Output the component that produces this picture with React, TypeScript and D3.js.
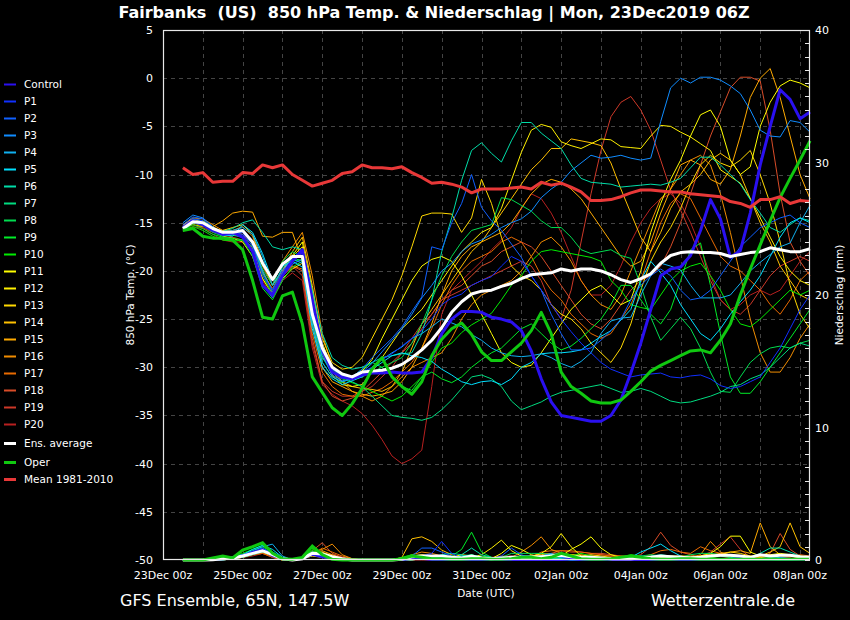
import React from 'react';
import * as d3 from 'd3';

// 6-hourly steps, first value valid 23Dec2019 12Z, last 08Jan2020 06Z
const firstStep = Date.UTC(2019, 11, 23, 12);
const stepHours = 6;

const control = [-15.5,-14.8,-15.2,-15.8,-16.2,-16.0,-16.5,-18.0,-21.5,-22.5,-20.5,-19.0,-17.8,-23.0,-28.0,-30.5,-31.0,-31.2,
  -30.8,-30.6,-30.6,-30.5,-30.6,-30.6,-30.5,-29.0,-26.5,-25.0,-24.2,-24.2,
  -24.3,-24.8,-25.0,-25.3,-26.2,-28.3,-31.2,-33.6,-35.0,-35.2,-35.4,-35.6,-35.6,-35.0,-33.4,-30.6,
  -27.5,-24.0,-20.5,-19.8,-19.6,-18.4,-15.8,-12.6,-14.6,-18.6,-17.9,-14.0,-9.0,-5.0,-1.2,-2.2,-4.2,-3.5];

const p1 = [-15.4,-14.6,-14.8,-15.8,-16.3,-16.2,-16.0,-17.5,-20.5,-22.0,-20.0,-19.0,-18.2,-24.0,-28.5,-30.5,-31.2,-31.0,
  -30.5,-30.0,-29.2,-28.6,-27.8,-27.0,-26.2,-25.0,-23.5,-22.8,-22.4,-21.5,
  -21.0,-20.6,-19.5,-18.5,-19.0,-20.5,-22.0,-23.5,-25.0,-26.3,-27.5,-28.5,-29.5,-30.2,-30.6,-31.0,
  -30.8,-30.7,-30.6,-31.0,-31.1,-30.9,-30.8,-31.2,-31.9,-32.2,-32.0,-31.5,-31.0,-29.5,-28.0,-26.0,-24.0,-22.5];
const p2 = [-15.2,-14.4,-14.6,-15.5,-16.0,-16.1,-16.2,-18.0,-21.5,-22.8,-20.2,-18.6,-18.0,-23.8,-28.2,-30.2,-30.8,-31.0,
  -30.2,-29.0,-28.0,-27.0,-25.8,-24.2,-22.7,-17.5,-17.8,-15.0,-13.0,-10.0,
  -13.4,-14.8,-15.8,-17.2,-18.6,-20.5,-22.0,-24.5,-26.5,-28.2,-28.2,-28.0,-27.2,-26.2,-25.0,-23.0,
  -21.5,-20.5,-19.8,-20.5,-22.0,-23.0,-22.8,-22.0,-20.5,-19.0,-17.5,-16.5,-15.5,-15.0,-14.5,-14.2,-15.0,-15.5];
const p3 = [-15.0,-14.2,-14.5,-15.4,-16.2,-16.0,-15.9,-17.2,-20.0,-22.2,-20.5,-19.3,-18.8,-24.8,-28.8,-30.8,-31.4,-31.2,
  -30.5,-29.6,-28.4,-27.2,-26.0,-24.5,-22.8,-21.5,-20.0,-19.2,-18.0,-17.2,
  -16.8,-16.2,-15.5,-15.0,-14.6,-13.8,-12.4,-11.5,-10.8,-9.6,-8.8,-8.0,-8.3,-8.2,-8.0,-8.3,
  -8.5,-8.3,-4.5,-1.0,0.0,-0.5,0.1,0.1,-0.2,-0.8,-1.6,-3.3,-5.4,-6.0,-6.1,-4.4,-4.6,-5.6];
const p4 = [-15.6,-14.8,-15.2,-15.8,-16.0,-15.8,-15.5,-16.2,-18.5,-21.5,-19.8,-18.8,-19.2,-25.5,-29.5,-31.0,-31.5,-31.2,
  -30.8,-30.0,-29.2,-28.5,-27.9,-27.0,-26.5,-25.8,-25.0,-25.4,-25.8,-26.6,
  -27.2,-28.0,-28.5,-28.8,-28.9,-28.8,-28.6,-29.0,-29.6,-30.0,-29.4,-28.5,-26.5,-25.2,-24.9,-24.8,
  -22.5,-20.5,-19.2,-19.5,-19.9,-21.5,-22.8,-22.8,-22.8,-22.5,-21.3,-20.0,-19.1,-18.3,-17.5,-17.1,-15.0,-13.2];
const p5 = [-15.8,-15.0,-15.0,-15.5,-16.2,-16.4,-15.2,-16.0,-18.2,-21.0,-19.5,-19.0,-19.6,-26.0,-30.0,-31.2,-31.8,-31.4,
  -31.0,-30.2,-29.5,-28.8,-28.5,-28.8,-29.0,-29.4,-30.2,-30.8,-31.5,-31.8,
  -31.5,-31.4,-31.8,-31.2,-30.0,-29.5,-28.6,-28.5,-28.5,-28.4,-28.2,-27.5,-26.8,-26.2,-25.1,-24.0,
  -21.0,-19.0,-20.2,-21.5,-23.5,-25.0,-26.5,-27.2,-26.0,-24.5,-23.2,-22.0,-20.5,-18.5,-16.5,-15.0,-14.5,-15.0];
const p6 = [-15.6,-14.9,-15.1,-15.7,-15.9,-15.6,-15.0,-14.7,-16.0,-17.5,-17.8,-17.5,-17.8,-22.0,-26.5,-29.0,-29.8,-30.2,
  -30.0,-29.5,-29.0,-28.8,-28.6,-28.5,-26.5,-23.0,-18.0,-14.5,-10.6,-7.5,
  -6.7,-7.8,-8.7,-6.5,-4.6,-4.6,-5.7,-6.5,-7.3,-9.0,-10.4,-10.8,-10.9,-11.0,-11.3,-11.2,
  -11.1,-11.0,-11.1,-10.8,-10.4,-9.3,-8.2,-8.2,-9.0,-10.0,-11.0,-12.6,-14.0,-15.5,-16.0,-15.2,-14.5,-14.8];
const p7 = [-15.5,-14.6,-14.8,-15.6,-16.3,-16.3,-16.5,-17.3,-20.2,-22.0,-19.6,-18.6,-19.0,-25.0,-29.0,-30.2,-31.0,-31.5,
  -32.0,-33.0,-34.0,-35.0,-35.2,-35.3,-35.5,-35.2,-34.4,-33.4,-32.2,-31.0,
  -30.8,-31.2,-32.0,-33.5,-34.4,-34.0,-33.6,-33.0,-32.6,-32.4,-32.2,-32.0,-31.8,-32.2,-32.6,-32.5,
  -32.2,-32.5,-33.0,-33.5,-33.7,-33.6,-33.3,-33.0,-32.6,-32.0,-31.8,-31.2,-30.8,-30.0,-29.0,-28.0,-27.5,-27.8];
const p8 = [-15.7,-15.0,-15.3,-16.0,-16.4,-16.2,-16.0,-17.2,-19.8,-21.5,-19.0,-18.0,-18.6,-24.0,-28.0,-30.2,-30.8,-31.2,
  -31.0,-30.5,-30.0,-29.5,-29.0,-27.5,-25.5,-23.0,-20.5,-18.5,-17.0,-15.8,
  -15.5,-15.2,-12.4,-12.6,-13.2,-13.8,-14.8,-15.5,-15.5,-16.5,-17.8,-18.2,-18.0,-17.8,-18.4,-18.7,
  -21.5,-24.8,-27.2,-26.0,-24.8,-26.0,-28.0,-30.5,-32.5,-32.6,-31.0,-29.5,-28.6,-28.0,-27.8,-28.0,-27.5,-27.2];
const p9 = [-15.8,-15.2,-15.6,-16.2,-16.5,-16.6,-16.8,-18.5,-21.8,-23.0,-21.0,-19.6,-19.0,-25.0,-29.5,-31.0,-31.6,-31.0,
  -30.2,-29.5,-30.0,-31.0,-32.0,-32.4,-31.0,-30.5,-31.2,-31.6,-31.0,-30.0,
  -29.2,-28.5,-28.0,-27.0,-26.0,-25.5,-26.5,-27.5,-28.2,-27.8,-27.0,-26.0,-25.0,-23.5,-21.5,-21.5,
  -23.0,-24.5,-25.5,-24.0,-21.0,-17.8,-17.1,-21.5,-26.5,-31.0,-32.7,-32.7,-31.5,-30.0,-28.5,-27.0,-25.5,-24.0];
const p10 = [-15.9,-15.4,-15.8,-16.4,-16.8,-16.9,-16.8,-17.5,-20.5,-22.5,-20.4,-19.0,-18.8,-24.5,-29.0,-30.5,-31.2,-31.6,
  -32.0,-32.5,-33.0,-33.5,-33.0,-32.0,-31.0,-29.5,-28.0,-27.5,-26.4,-25.6,
  -25.0,-24.4,-23.0,-21.5,-20.5,-19.0,-18.0,-17.8,-18.0,-18.2,-18.4,-18.6,-19.0,-21.0,-22.0,-23.5,
  -23.8,-24.0,-22.5,-21.0,-20.0,-19.5,-19.2,-20.5,-22.0,-24.0,-25.5,-25.8,-25.0,-24.0,-23.0,-22.0,-22.5,-22.0];
const p11 = [-15.3,-14.7,-14.8,-15.4,-16.0,-16.2,-16.5,-17.6,-20.8,-22.4,-20.2,-18.4,-17.0,-22.0,-27.5,-30.0,-30.8,-31.0,
  -30.4,-29.2,-27.0,-25.0,-23.0,-21.0,-19.5,-18.8,-18.5,-19.0,-20.5,-22.5,
  -24.5,-26.5,-28.5,-29.5,-30.0,-29.8,-28.5,-27.0,-25.5,-24.0,-23.0,-22.0,-21.5,-22.5,-23.5,-23.0,
  -20.0,-16.0,-13.0,-10.5,-8.5,-6.0,-3.8,-3.3,-5.0,-8.5,-10.0,-9.2,-5.0,-2.5,-0.8,-0.2,-0.5,-1.0];
const p12 = [-15.5,-15.0,-15.2,-15.8,-16.4,-16.6,-17.0,-18.5,-21.5,-22.6,-20.8,-19.8,-19.2,-24.0,-28.5,-30.8,-31.8,-32.0,
  -31.8,-30.5,-29.0,-27.5,-26.0,-25.0,-24.0,-22.5,-21.0,-19.5,-18.0,-17.0,
  -16.0,-15.5,-13.5,-10.6,-7.7,-5.4,-4.8,-5.1,-6.6,-7.0,-7.3,-6.8,-6.3,-6.4,-7.1,-7.2,
  -7.3,-6.0,-4.9,-5.0,-5.6,-6.1,-6.8,-7.5,-9.5,-10.2,-10.9,-12.5,-14.5,-16.5,-18.5,-20.0,-21.0,-21.5];
const p13 = [-15.4,-14.8,-15.0,-15.6,-15.8,-15.5,-15.2,-16.2,-19.0,-21.5,-20.0,-18.5,-17.5,-22.5,-27.0,-29.5,-30.2,-30.0,
  -29.0,-27.0,-25.0,-23.0,-20.5,-17.5,-14.3,-14.0,-14.0,-14.1,-16.0,-14.5,
  -10.5,-13.0,-16.5,-19.5,-20.5,-21.0,-22.0,-23.5,-24.5,-25.0,-26.0,-27.5,-28.5,-29.5,-28.0,-25.5,
  -22.0,-19.0,-17.0,-15.5,-13.5,-11.0,-9.0,-8.0,-8.8,-9.2,-8.5,-7.5,-10.0,-13.0,-17.0,-21.5,-24.5,-26.0];
const p14 = [-15.2,-14.6,-15.0,-15.7,-16.2,-16.0,-15.8,-17.0,-20.0,-22.0,-20.0,-18.0,-16.5,-21.5,-27.5,-30.5,-31.5,-32.0,
  -32.2,-32.3,-32.5,-32.0,-30.5,-28.0,-25.5,-24.0,-22.5,-21.0,-19.5,-18.0,
  -17.0,-15.5,-14.0,-12.5,-11.0,-9.5,-8.5,-7.3,-7.3,-6.3,-6.5,-6.7,-7.0,-8.8,-11.5,-14.0,
  -16.5,-18.0,-16.0,-13.5,-11.8,-11.0,-10.0,-8.5,-7.8,-8.5,-10.0,-12.5,-15.0,-17.0,-19.5,-21.0,-22.5,-23.0];
const p15 = [-15.6,-15.2,-15.4,-15.4,-14.8,-14.0,-13.8,-13.9,-16.4,-16.5,-16.0,-16.0,-19.0,-25.5,-30.0,-31.5,-32.0,-32.5,
  -32.8,-33.0,-32.8,-32.5,-31.5,-30.0,-28.0,-25.5,-22.5,-20.0,-18.5,-17.5,
  -17.0,-16.5,-16.0,-15.0,-13.5,-12.0,-11.0,-10.5,-10.8,-11.5,-12.5,-14.0,-15.5,-17.0,-18.5,-19.5,
  -19.0,-17.0,-14.0,-11.5,-9.0,-8.5,-9.0,-10.5,-11.0,-9.5,-6.0,-2.0,0.0,1.0,-2.0,-6.0,-10.0,-12.5];
const p16 = [-15.3,-14.5,-14.6,-15.2,-15.8,-15.8,-15.4,-16.4,-19.5,-21.5,-19.0,-17.5,-16.0,-20.5,-26.5,-30.0,-31.5,-32.5,
  -33.0,-33.5,-33.0,-32.0,-31.0,-30.0,-29.5,-29.0,-28.5,-27.0,-25.0,-23.5,
  -22.5,-22.0,-21.5,-21.0,-20.0,-18.5,-17.0,-16.5,-17.5,-19.0,-21.0,-22.5,-23.5,-24.0,-22.5,-20.0,
  -17.5,-15.0,-12.5,-11.5,-10.0,-8.5,-8.0,-9.0,-12.0,-16.0,-20.5,-25.0,-28.5,-30.5,-30.5,-29.0,-27.0,-25.5];
const p17 = [-15.5,-15.0,-15.3,-15.9,-16.2,-16.2,-16.5,-17.8,-20.8,-22.5,-20.5,-19.5,-19.8,-26.5,-30.5,-32.0,-32.8,-33.0,
  -33.0,-32.6,-32.2,-31.5,-30.5,-29.5,-28.0,-26.0,-23.5,-21.5,-20.0,-19.0,
  -18.5,-18.0,-17.0,-16.5,-17.0,-18.5,-20.5,-22.0,-23.0,-24.5,-25.5,-26.5,-27.0,-26.5,-25.0,-23.5,
  -21.0,-18.0,-15.0,-13.0,-12.0,-12.5,-14.5,-16.5,-18.5,-19.5,-20.0,-21.0,-22.0,-23.5,-24.5,-23.0,-21.0,-20.0];
const p18 = [-15.4,-14.8,-15.2,-15.8,-16.0,-16.0,-16.2,-17.4,-20.4,-22.4,-20.6,-19.5,-20.0,-27.0,-31.5,-33.0,-33.5,-33.2,
  -32.5,-31.5,-30.5,-29.5,-28.5,-27.5,-26.0,-24.5,-23.0,-22.0,-21.5,-20.5,
  -19.5,-19.0,-18.0,-17.5,-17.0,-17.5,-18.5,-20.0,-21.5,-23.0,-24.5,-25.5,-26.0,-25.0,-23.5,-22.0,
  -21.0,-20.5,-19.5,-17.5,-15.0,-12.0,-9.0,-6.0,-3.5,-1.0,0.1,0.1,-0.3,-5.4,-12.0,-17.0,-19.0,-20.5];
const p19 = [-15.6,-15.2,-15.5,-16.0,-16.2,-16.5,-16.8,-17.8,-20.2,-21.8,-20.0,-19.5,-20.5,-27.5,-31.5,-32.5,-33.0,-33.0,
  -32.5,-32.0,-31.0,-30.0,-28.5,-27.0,-25.5,-24.5,-23.0,-22.5,-22.0,-21.5,
  -21.0,-20.5,-20.0,-19.5,-19.0,-19.5,-21.0,-23.5,-25.0,-22.0,-17.0,-12.0,-7.5,-4.0,-2.5,-1.9,
  -3.3,-5.4,-8.5,-11.6,-13.7,-16.0,-18.5,-21.0,-23.0,-24.0,-24.5,-23.5,-22.0,-20.5,-19.5,-19.0,-18.5,-19.0];
const p20 = [-15.8,-15.4,-15.6,-16.2,-16.8,-17.0,-17.0,-18.0,-21.0,-22.8,-21.0,-20.2,-21.0,-28.0,-31.8,-32.8,-33.5,-34.0,
  -34.8,-36.0,-37.5,-39.2,-40.0,-39.5,-38.6,-32.0,-24.5,-22.0,-21.0,-20.0,
  -19.0,-17.8,-16.8,-15.5,-13.5,-12.0,-12.5,-14.0,-16.0,-18.5,-21.0,-22.5,-22.5,-21.5,-19.5,-17.0,
  -15.0,-13.5,-12.5,-12.0,-13.0,-15.0,-17.5,-20.5,-23.0,-24.0,-23.5,-22.5,-22.0,-22.5,-22.0,-20.5,-19.0,-18.0];

const ensAverage = [-15.6,-14.9,-15.0,-15.6,-16.0,-16.0,-15.8,-17.0,-19.2,-20.9,-19.3,-18.5,-18.5,-24.5,-28.0,-30.0,-30.7,-31.0,
  -30.5,-30.4,-30.3,-30.1,-29.7,-29.0,-28.2,-27.2,-25.9,-24.3,-23.2,-22.4,
  -22.1,-22.0,-21.6,-21.3,-20.8,-20.4,-20.3,-20.2,-19.8,-20.0,-19.8,-19.8,-20.0,-20.4,-20.9,-21.2,
  -20.8,-20.3,-19.2,-18.4,-18.1,-18.0,-18.1,-18.1,-18.2,-18.5,-18.3,-18.1,-18.0,-17.6,-17.8,-18.0,-18.0,-17.7];
const oper = [-15.8,-15.6,-16.4,-16.6,-16.6,-16.8,-17.8,-21.0,-24.8,-25.0,-22.6,-22.2,-25.5,-31.0,-32.6,-34.2,-35.0,-33.8,
  -32.2,-30.2,-29.0,-31.0,-32.0,-32.8,-31.5,-28.8,-27.1,-26.0,-25.4,-26.6,
  -28.4,-29.3,-29.3,-28.4,-27.5,-26.2,-24.3,-26.5,-30.5,-32.0,-32.7,-33.5,-33.7,-33.7,-33.4,-32.5,
  -31.5,-30.4,-29.8,-29.3,-28.8,-28.3,-28.2,-28.5,-27.2,-25.5,-22.5,-19.8,-17.3,-14.8,-12.4,-10.4,-8.5,-6.5];
const mean19812010 = [-9.3,-10.0,-9.8,-10.8,-10.7,-10.7,-9.8,-9.9,-9.0,-9.3,-9.0,-10.0,-10.6,-11.2,-10.9,-10.6,-9.9,-9.7,
  -9.0,-9.3,-9.3,-9.4,-9.2,-9.8,-10.3,-10.9,-10.8,-11.0,-11.3,-11.9,
  -11.5,-11.5,-11.5,-11.4,-11.3,-11.5,-10.8,-11.1,-10.9,-11.3,-11.8,-12.7,-12.7,-12.6,-12.3,-11.9,
  -11.6,-11.6,-11.7,-11.8,-11.8,-12.0,-12.1,-12.2,-12.3,-12.8,-13.0,-13.4,-12.6,-12.6,-12.3,-13.0,-12.7,-12.8];

// precipitation (mm per 6h)
const rrControl = [0,0,0,0,0.1,0.2,0.3,0.6,0.8,0.3,0.1,0,0.1,0.4,0.2,0.1, 0,0,0,0,0,0,0,0.1,0.1,0,0,0,0,0,0,0, 0,0,0,0,0,0,0,0.1,0,0,0,0,0,0,0,0, 0,0,0,0,0,0,0,0,0,0,0,0,0.1,0.1,0,0];
const rrP1 = [0,0,0,0,0.1,0.2,0.4,0.5,0.7,0.4,0,0,0.1,0.5,0.3,0.1, 0,0,0,0,0,0,0,0.2,0.3,0.5,1.4,0.5,0.1,0,0,0, 0,0.2,0.1,0,0,0,0,0,0,0,0,0,0,0,0.1,0, 0,0,0,0,0,0,0,0.1,0.2,0,0,0,0,0,0,0];
const rrP2 = [0,0,0,0,0,0.1,0.3,0.6,0.9,0.5,0.1,0,0.1,0.6,0.4,0.2, 0,0,0,0,0,0,0,0.3,0.9,0.9,0.6,0.3,0.1,0,0,0.1, 0.3,0.9,0.4,0.1,0,0,0,0,0,0,0,0,0,0,0,0, 0,0,0.1,0,0,0,0,0,0,0,0,0,0,0,0,0];
const rrP3 = [0,0,0,0,0.1,0.2,0.4,0.6,0.8,0.6,0.2,0,0.2,0.5,0.3,0.1, 0,0,0,0,0,0,0,0.1,0.2,0.1,0.2,0.2,0.1,0.3,0.2,0.1, 0.1,0.1,0.2,0.2,0.3,0.5,0.2,0.1,0,0,0,0,0,0.1,0.3,0.2, 0.1,0,0,0,0,0,0,0,0,0,0.1,0.1,0,0,0,0];
const rrP4 = [0,0,0,0,0.1,0.1,0.3,0.7,1.0,1.2,0.3,0,0.1,0.4,0.2,0.1, 0,0,0,0,0,0,0,0.1,0.2,0.1,0,0.1,0.1,0.1,0,0, 0,0,0,0.1,0.2,0.3,0.2,0.1,0,0,0,0,0,0,0.1,0.2, 0.3,0.2,0.1,0,0,0,0,0,0,0,0,0,0,0,0,0];
const rrP5 = [0,0,0,0,0.1,0.2,0.4,0.8,1.1,0.8,0.2,0,0.1,0.5,0.3,0.1, 0,0,0,0,0,0,0,0,0.1,0.1,0.2,0.2,0.3,0.3,0.2,0.1, 0.1,0.2,0.3,0.3,0.2,0.4,0.5,0.3,0.2,0.1,0,0,0,0.2,0.6,0.9, 1.2,0.7,0.3,0.1,0,0,0,0,0,0,0,0.1,0.2,0.1,0,0];
const rrP6 = [0,0,0,0,0,0.1,0.2,0.4,0.6,0.4,0.1,0,0.1,0.4,0.3,0.1, 0,0,0,0,0,0,0,0.1,0.1,0.2,0.4,0.5,0.4,0.9,0.4,0.2, 0.1,0.1,0.1,0.1,0.2,0.1,0.1,0,0,0,0,0,0,0.1,0.2,0.3, 0.4,0.3,0.2,0.2,0.2,0.3,0.3,0.2,0.1,0.2,0.5,0.9,0.9,0.6,0.3,0.1];
const rrP7 = [0,0,0,0,0.1,0.2,0.3,0.5,0.7,0.5,0.1,0,0.2,0.6,0.4,0.2, 0,0,0,0,0,0,0.1,0.2,0.3,0.2,0.1,0.2,0.3,0.4,0.2,0.1, 0,0,0,0,0.1,0.1,0.1,0,0,0,0,0,0,0,0.1,0.2, 0.3,0.2,0.2,0.1,0.1,0.1,0.1,0,0,0,0.1,0.2,0.1,0,0,0];
const rrP8 = [0,0,0,0,0.1,0.1,0.3,0.6,0.9,0.4,0.1,0,0.1,0.5,0.3,0.1, 0,0,0,0,0,0,0,0.1,0.2,0.2,0.2,0.2,0.2,0.4,0.2,0.1, 0.2,0.5,0.5,0.5,0.5,0.4,0.3,0.2,0.1,0.1,0.2,0.1,0.1,0.2,0.3,0.4, 0.3,0.2,0.2,0.4,0.5,0.5,0.4,0.2,0.1,0,0,0,0,0,0,0];
const rrP9 = [0,0,0,0,0.2,0.2,0.4,0.7,1.0,0.6,0.1,0,0.2,0.7,0.4,0.1, 0,0,0,0,0,0,0.1,0.2,0.3,0.3,0.2,0.3,0.8,2.1,0.6,0.2, 0.1,0.1,0.1,0.2,0.2,0.3,0.2,0.3,0.2,0.1,0,0,0,0.1,0.2,0.1, 0,0,0,0,0,0,0,0,0,0,0,0,0,0,0,0];
const rrP10 = [0,0,0,0.1,0.2,0.2,0.5,0.8,1.1,0.5,0.1,0,0.2,0.8,0.5,0.1, 0,0,0,0,0,0,0.2,0.4,0.3,0.2,0.1,0.1,0.1,0.2,0.3,0.2, 0.1,0.1,0.2,0.2,0.3,0.2,0.2,0.3,0.5,0.3,0.2,0.1,0.2,0.4,0.3,0.1, 0,0,0.1,0.2,0.2,0.2,0.1,0,0,0,0,0,0,0,0,0];
const rrP11 = [0,0,0,0,0.1,0.1,0.3,0.5,0.6,0.3,0,0,0.1,0.3,0.2,0.1, 0,0,0,0,0,0,0,0.1,0.1,0.1,0.1,0.2,0.4,0.3,0.2,0.1, 0.5,1.1,0.8,0.4,0.2,0.2,0.3,0.8,1.2,1.75,0.9,0.4,0.2,0.1,0.1,0.1, 0.1,0.1,0.2,0.2,0.3,0.5,1.0,1.8,1.8,0.6,0.3,0.4,0.5,0.4,0.3,0.2];
const rrP12 = [0,0,0,0,0,0.1,0.3,0.5,0.7,0.3,0,0,0.1,0.4,0.3,0.1, 0,0,0,0,0,0,0,0,0.1,0.1,0.3,0.2,0.1,0.2,0.4,0.9, 1.5,0.7,0.3,0.2,0.5,1.0,2.0,1.0,0.3,0.1,0,0,0,0,0.1,0.1, 0.2,0.2,0.1,0.1,0,0,0,0,0,0,0,0,0,0,0,0];
const rrP13 = [0,0,0,0,0.1,0.2,0.3,0.6,0.7,0.3,0.1,0,0.1,0.5,0.4,0.2, 0.1,0,0,0,0,0,0.1,0.3,0.4,0.3,0.2,0.2,0.1,0.1,0.1,0.1, 0.2,0.1,0.1,0.2,0.3,0.4,0.5,0.4,0.3,0.4,0.3,0.2,0.1,0.1,0.1,0.1, 0.1,0.2,0.3,0.3,0.2,0.3,0.4,0.6,0.5,0.3,0.2,0.1,0.1,0.1,0.2,0.2];
const rrP14 = [0,0,0,0,0.1,0.1,0.2,0.5,0.7,0.3,0,0,0.1,0.6,0.6,0.3, 0.1,0,0,0,0,0,0.2,1.6,1.75,1.4,0.75,0.4,0.2,0.1,0,0, 0,0.1,0.2,0.3,0.4,0.5,0.3,0.2,0.2,0.1,0.1,0.1,0,0,0,0.1, 0.2,0.3,0.3,0.2,0.2,0.3,0.4,0.3,0.2,0.2,0.3,0.6,1.0,2.8,1.0,0.5];
const rrP15 = [0,0,0,0,0.1,0.2,0.3,0.6,0.8,0.4,0.1,0,0.1,0.5,0.7,0.4, 0.1,0,0,0,0,0,0,0.1,0.2,0.3,0.3,0.2,0.1,0.1,0,0, 0,0,0.1,0.3,0.5,0.4,0.2,0.1,0.1,0,0,0,0,0,0,0, 0.1,0.2,0.2,0.2,0.3,0.4,0.5,0.6,0.7,0.5,2.8,1.0,0.4,0.3,0.2,0.1];
const rrP16 = [0,0,0,0,0,0.1,0.2,0.4,0.6,0.3,0.1,0,0.2,0.6,0.8,1.2, 0.4,0.1,0,0,0,0,0.1,0.4,0.6,0.5,0.3,0.2,0.1,0,0,0, 0,0.2,0.6,1.1,1.75,0.8,0.5,0.4,0.4,0.3,0.2,0.2,0.1,0.1,0.2,0.3, 0.3,0.3,0.2,0.2,0.4,1.4,0.6,0.3,0.2,0.1,0.2,0.3,0.4,0.3,0.3,0.2];
const rrP17 = [0,0,0,0,0.1,0.1,0.2,0.4,0.5,0.2,0,0,0.1,0.4,0.9,0.6, 0.3,0.1,0,0,0,0,0,0.1,0.2,0.2,0.2,0.1,0.1,0,0,0, 0,0,0,0.2,0.6,0.7,0.7,0.7,0.6,0.5,0.4,0.3,0.3,0.3,0.2,0.4, 0.7,0.8,0.6,0.5,1.0,0.7,0.5,0.4,0.3,0.3,0.3,0.3,0.2,0.2,0.4,0.3];
const rrP18 = [0,0,0,0,0.1,0.2,0.3,0.5,0.6,0.3,0.1,0,0.2,0.7,1.3,0.5, 0.2,0,0,0,0,0,0,0.1,0.2,0.1,0.1,0,0,0,0,0, 0,0,0,0.1,0.2,0.5,0.7,0.6,0.6,0.5,0.5,0.4,0.3,0.2,0.4,1.0, 2.1,1.1,0.6,0.4,0.2,0.2,0.3,0.2,0.1,0.1,0.2,0.5,2.0,0.8,0.3,0.2];
const rrP19 = [0,0,0,0,0.1,0.1,0.2,0.4,0.5,0.3,0,0,0.1,0.4,0.5,0.4, 0.2,0,0,0,0,0,0,0,0.1,0.1,0,0,0,0,0,0, 0,0,0,0,0.1,0.1,0.2,0.2,0.2,0.3,0.4,0.3,0.2,0.1,0.1,0.2, 0.3,0.3,0.2,0.2,0.3,0.6,1.2,1.75,0.8,0.2,0.1,0.1,0.2,0.3,0.2,0.1];
const rrP20 = [0,0,0,0,0.1,0.2,0.2,0.3,0.5,0.2,0,0,0.1,0.3,0.4,0.2, 0.1,0,0,0,0,0,0,0,0,0,0,0,0.1,0.1,0.2,0.2, 0.3,0.3,0.2,0.2,0.2,0.1,0.1,0.1,0.1,0.2,0.2,0.2,0.2,0.1,0.1,0.1, 0.1,0.1,0.1,0.1,0.1,0.1,0.1,0.2,0.2,0.1,0.1,0.2,0.1,0.1,0.1,0.1];
const rrOper = [0,0,0,0.15,0.3,0.15,0.75,1.0,1.3,0.5,0.1,0.05,0.2,1.05,0.4,0.05, 0,0,0,0,0,0,0.1,0.3,0.2,0.1,0.1,0.05,0.05,0.1,0.1,0.05, 0.05,0.1,0.2,0.2,0.1,0.2,0.5,0.3,0.1,0.05,0.05,0.1,0.2,0.3,0.2,0.1, 0.05,0.05,0.1,0.1,0.05,0.05,0.05,0.05,0.05,0.05,0.05,0.05,0.05,0.05,0.05,0.05];
const rrAvg = [0,0,0,0.02,0.1,0.15,0.3,0.5,0.7,0.4,0.1,0,0.1,0.5,0.45,0.25, 0.1,0,0,0,0,0,0.05,0.25,0.3,0.3,0.3,0.2,0.15,0.3,0.15,0.1, 0.15,0.2,0.2,0.2,0.25,0.3,0.35,0.25,0.2,0.2,0.15,0.1,0.1,0.1,0.15,0.2, 0.3,0.25,0.2,0.15,0.2,0.3,0.35,0.35,0.3,0.2,0.4,0.3,0.35,0.35,0.25,0.2];

const memberNames = ['Control','P1','P2','P3','P4','P5','P6','P7','P8','P9','P10',
  'P11','P12','P13','P14','P15','P16','P17','P18','P19','P20'];
const memberColors = ['#2a10f0','#1030ff','#1060ff','#108cff','#10b0f0','#00e0ff','#00dca8','#00dc80','#00dc50','#00ec28','#00ec00',
  '#ffff00','#fff000','#ffd800','#ffc000','#ffaa00','#f08c00','#e86a00','#d84c28','#cc3828','#b82020'];
const memberTemps = [control,p1,p2,p3,p4,p5,p6,p7,p8,p9,p10,p11,p12,p13,p14,p15,p16,p17,p18,p19,p20];
const memberRain = [rrControl,rrP1,rrP2,rrP3,rrP4,rrP5,rrP6,rrP7,rrP8,rrP9,rrP10,rrP11,rrP12,rrP13,rrP14,rrP15,rrP16,rrP17,rrP18,rrP19,rrP20];

const tempTicks = [5,0,-5,-10,-15,-20,-25,-30,-35,-40,-45,-50];
const rainTicks = [0,10,20,30,40];

const left = 163, right = 810, top = 30, bottom = 560;
const font = 'DejaVu Sans, Verdana, sans-serif';

const x = d3.scaleUtc()
  .domain([new Date(Date.UTC(2019, 11, 23, 0)), new Date(Date.UTC(2020, 0, 8, 6))])
  .range([left, right]);
const yT = d3.scaleLinear().domain([-50, 5]).range([bottom, top]);
const yR = d3.scaleLinear().domain([0, 40]).range([bottom, top]);

const stepTime = (i: number) => new Date(firstStep + i * stepHours * 3600e3);
const tempLine = d3.line<number>().x((d, i) => x(stepTime(i))).y((d) => yT(d));
const rainLine = d3.line<number>().x((d, i) => x(stepTime(i))).y((d) => yR(d));

export default function App() {
  const [d0, d1] = x.domain();
  const days = d3.utcDay.range(d3.utcDay.offset(d0, 1), d1);
  // labels every second day counted from the start
  const labelDays = d3.utcDay.range(d0, d1, 2);
  const fmt = d3.utcFormat('%d%b 00z');

  const order = d3.range(memberNames.length).reverse();

  return (
    <svg width={850} height={620} style={{ position: 'absolute', left: 0, top: 0, background: '#000' }}
      fontFamily={font}>
      <rect width={850} height={620} fill="#000" />

      <text x={434} y={18} fill="#fff" fontSize={16} fontWeight="bold" textAnchor="middle"
        style={{ whiteSpace: 'pre' }}>
        {'Fairbanks  (US)  850 hPa Temp. & Niederschlag | Mon, 23Dec2019 06Z'}
      </text>

      {/* grid */}
      <g stroke="#444" strokeDasharray="4,4" strokeWidth={1}>
        {days.map((d) => (
          <line key={+d} x1={Math.round(x(d)) + 0.5} x2={Math.round(x(d)) + 0.5} y1={top} y2={bottom} />
        ))}
        {tempTicks.filter((t) => t < 5 && t > -50).map((t) => (
          <line key={t} x1={left} x2={right} y1={Math.round(yT(t)) + 0.5} y2={Math.round(yT(t)) + 0.5} />
        ))}
      </g>

      {/* precipitation */}
      <g fill="none">
        {order.map((k) => (
          <path key={'r' + k} d={rainLine(memberRain[k]) || ''} stroke={memberColors[k]}
            strokeWidth={k === 0 ? 2 : 1} />
        ))}
        <path d={rainLine(rrAvg) || ''} stroke="#fff" strokeWidth={3} />
        <path d={rainLine(rrOper) || ''} stroke="#10c810" strokeWidth={3} />
      </g>

      {/* temperature */}
      <g fill="none" strokeLinejoin="round">
        {order.filter((k) => k > 0).map((k) => (
          <path key={'t' + k} d={tempLine(memberTemps[k]) || ''} stroke={memberColors[k]} strokeWidth={1} />
        ))}
        <path d={tempLine(control) || ''} stroke={memberColors[0]} strokeWidth={3} />
        <path d={tempLine(ensAverage) || ''} stroke="#fff" strokeWidth={3} />
        <path d={tempLine(oper) || ''} stroke="#10c810" strokeWidth={3} />
        <path d={tempLine(mean19812010) || ''} stroke="#e83838" strokeWidth={3} />
      </g>

      {/* frame */}
      <rect x={left + 0.5} y={top + 0.5} width={right - left - 1} height={bottom - top - 1}
        fill="none" stroke="#e8e8e8" strokeWidth={1.2} />

      {/* left axis */}
      <g fill="#fff" fontSize={11} textAnchor="end">
        {tempTicks.map((t) => (
          <text key={t} x={153} y={yT(t) + 4}>{t}</text>
        ))}
      </g>
      <text transform={`translate(134,${(top + bottom) / 2}) rotate(-90)`} fill="#fff" fontSize={10.5}
        textAnchor="middle">850 hPa Temp. (°C)</text>

      {/* right axis */}
      <g stroke="#e8e8e8">
        {d3.range(0, 41).map((v) => (
          <line key={v} x1={right - 5} x2={right} y1={Math.round(yR(v)) + 0.5} y2={Math.round(yR(v)) + 0.5} />
        ))}
      </g>
      <g fill="#fff" fontSize={11} textAnchor="start">
        {rainTicks.map((v) => (
          <text key={v} x={815} y={yR(v) + 4}>{v}</text>
        ))}
      </g>
      <text transform={`translate(843,${(top + bottom) / 2}) rotate(-90)`} fill="#fff" fontSize={10.5}
        textAnchor="middle">Niederschlag (mm)</text>

      {/* x axis */}
      <g fill="#fff" fontSize={11} textAnchor="middle">
        {labelDays.map((d) => (
          <text key={+d} x={x(d)} y={579}>{fmt(d)}</text>
        ))}
      </g>
      <text x={486} y={597} fill="#fff" fontSize={10.5} textAnchor="middle">Date (UTC)</text>

      <text x={120} y={606} fill="#fff" fontSize={16}>GFS Ensemble, 65N, 147.5W</text>
      <text x={795} y={606} fill="#fff" fontSize={16} textAnchor="end">Wetterzentrale.de</text>

      {/* legend */}
      <g fontSize={10.5} fill="#fff">
        {memberNames.map((n, k) => (
          <g key={n} transform={`translate(0,${84 + k * 17})`}>
            <line x1={4} x2={16} y1={0.5} y2={0.5} stroke={memberColors[k]} strokeWidth={2} />
            <text x={24} y={4}>{n}</text>
          </g>
        ))}
        <g transform="translate(0,443)">
          <line x1={4} x2={16} y1={0.5} y2={0.5} stroke="#fff" strokeWidth={3} />
          <text x={24} y={4}>Ens. average</text>
        </g>
        <g transform="translate(0,462)">
          <line x1={4} x2={16} y1={0.5} y2={0.5} stroke="#10c810" strokeWidth={3} />
          <text x={24} y={4}>Oper</text>
        </g>
        <g transform="translate(0,479)">
          <line x1={4} x2={16} y1={0.5} y2={0.5} stroke="#e83838" strokeWidth={3} />
          <text x={24} y={4}>Mean 1981-2010</text>
        </g>
      </g>
    </svg>
  );
}
